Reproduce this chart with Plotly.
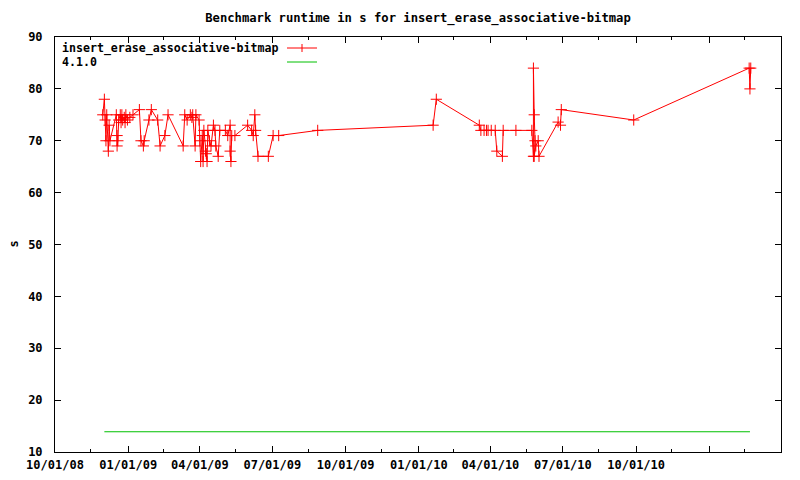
import plotly.graph_objects as go

# ---- data ----
run_dates = [
    "2008-11-30", "2008-12-02", "2008-12-03", "2008-12-04", "2008-12-05", "2008-12-07",
    "2008-12-08", "2008-12-09", "2008-12-17", "2008-12-18", "2008-12-18", "2008-12-19",
    "2008-12-20", "2008-12-22", "2008-12-23", "2008-12-24", "2008-12-25", "2008-12-27",
    "2008-12-28", "2008-12-29", "2008-12-31", "2009-01-03", "2009-01-07", "2009-01-15",
    "2009-01-17", "2009-01-20", "2009-01-21", "2009-01-27", "2009-01-30", "2009-02-07",
    "2009-02-10", "2009-02-16", "2009-02-20", "2009-03-11", "2009-03-13", "2009-03-16",
    "2009-03-20", "2009-03-22", "2009-03-23", "2009-03-26", "2009-03-27", "2009-03-31",
    "2009-04-01", "2009-04-02", "2009-04-04", "2009-04-05", "2009-04-06", "2009-04-08",
    "2009-04-09", "2009-04-10", "2009-04-11", "2009-04-13", "2009-04-15", "2009-04-18",
    "2009-04-20", "2009-04-21", "2009-04-24", "2009-04-26", "2009-05-03", "2009-05-06",
    "2009-05-09", "2009-05-09", "2009-05-10", "2009-05-11", "2009-05-15", "2009-05-31",
    "2009-06-05", "2009-06-07", "2009-06-09", "2009-06-10", "2009-06-13", "2009-06-26",
    "2009-07-02", "2009-07-09", "2009-08-27", "2010-01-19", "2010-01-23", "2010-03-18",
    "2010-03-20", "2010-03-24", "2010-03-27", "2010-03-29", "2010-04-02", "2010-04-07",
    "2010-04-09", "2010-04-16", "2010-04-17", "2010-05-03", "2010-05-23", "2010-05-25",
    "2010-05-25", "2010-05-26", "2010-05-27", "2010-05-26", "2010-05-28", "2010-05-31",
    "2010-06-01", "2010-06-25", "2010-06-28", "2010-06-29", "2010-09-28", "2011-02-20",
    "2011-02-21", "2011-02-22",
]
run_values = [
    75, 78, 74, 70, 75, 68,
    73, 70, 75, 71, 69, 70,
    74, 75, 73.5, 75, 74, 74.5,
    73.5, 75, 74, 74.5, 75, 76,
    70, 69, 70, 74, 76, 74,
    69, 71, 75, 69, 75, 74,
    75, 74.5, 75, 69, 75, 74,
    70, 66, 71, 66, 72, 68,
    67.5, 66, 72, 70, 69, 73,
    72, 69, 67, 72, 72, 71,
    73, 68, 66, 71, 71, 73,
    72, 71, 75, 72, 67, 67,
    71, 71, 72, 73, 78, 73,
    72, 72, 72, 72, 72, 72,
    68, 67, 72, 72, 72, 67,
    84, 75, 70, 67, 69, 70,
    67, 73.6, 73, 76, 74, 84,
    80, 84,
]
baseline_dates = ["2008-12-02", "2011-02-21"]
baseline_values = [13.9, 13.9]

series_name = "insert_erase_associative-bitmap"
baseline_name = "4.1.0"
chart_title = "Benchmark runtime in s for insert_erase_associative-bitmap"
y_label = "s"

x_tick_vals = ["2008-10-01", "2009-01-01", "2009-04-01", "2009-07-01", "2009-10-01",
               "2010-01-01", "2010-04-01", "2010-07-01", "2010-10-01", "2011-01-01",
               "2011-04-01"]
x_tick_text = ["10/01/08", "01/01/09", "04/01/09", "07/01/09", "10/01/09",
               "01/01/10", "04/01/10", "07/01/10", "10/01/10", "", ""]
x_minor_vals = ["2008-11-15", "2009-02-14", "2009-05-16", "2009-08-15", "2009-11-15",
                "2010-02-14", "2010-05-16", "2010-08-15", "2010-11-15", "2011-02-14"]
y_tick_vals = [10, 20, 30, 40, 50, 60, 70, 80, 90]

RED = "#ff0000"
GREEN = "#00c000"
FONT = "DejaVu Sans Mono"

fig = go.Figure()
fig.add_trace(go.Scatter(
    x=run_dates, y=run_values, mode="lines+markers", name=series_name,
    line=dict(color=RED, width=1),
    marker=dict(symbol="cross-thin", size=8, color=RED, line=dict(color=RED, width=1)),
    showlegend=False,
))
fig.add_trace(go.Scatter(
    x=baseline_dates, y=baseline_values, mode="lines", name=baseline_name,
    line=dict(color=GREEN, width=1.2), showlegend=False,
))

axis_common = dict(
    showgrid=False, zeroline=False, showline=True, linecolor="black", linewidth=1,
    mirror="allticks", ticks="inside", tickcolor="black", tickwidth=1,
    automargin=False,
    tickfont=dict(family=FONT, size=12, color="black", weight="bold"),
)

# the page body adds an 8px offset, so the figure is 792x472 with margins adjusted
fig.update_layout(
    width=792, height=472,
    margin=dict(l=47, r=19, t=29, b=28),
    paper_bgcolor="white", plot_bgcolor="white",
    title=dict(text=chart_title, x=0.5, xref="paper", y=1 - 10 / 472, yref="container",
               xanchor="center", yanchor="middle",
               font=dict(family=FONT, size=12.2, color="black", weight="bold")),
    xaxis=dict(
        type="date", range=["2008-10-01", "2011-04-01"],
        tickmode="array", tickvals=x_tick_vals, ticktext=x_tick_text,
        ticklen=6, ticklabelstandoff=2,
        minor=dict(tickmode="array", tickvals=x_minor_vals, ticks="inside",
                   ticklen=3, tickcolor="black", tickwidth=1, showgrid=False),
        **axis_common,
    ),
    yaxis=dict(
        range=[10, 90], tickmode="array", tickvals=y_tick_vals, ticklen=6,
        ticklabelstandoff=9,
        **axis_common,
    ),
    showlegend=False,
)

fig.add_annotation(text=y_label, xref="paper", yref="paper", x=(13 - 55) / 726, y=0.5,
                   xanchor="center", yanchor="middle", textangle=-90, showarrow=False,
                   font=dict(family=FONT, size=12, color="black", weight="bold"))

# gnuplot-style key: text on the left, sample on the right
legend_rows = [(series_name, RED, True), (baseline_name, GREEN, False)]
row_y = [48, 62]
for (label, color, has_marker), py in zip(legend_rows, row_y):
    yp = 1 - (py - 37) / (452 - 37)
    fig.add_annotation(text=label, xref="paper", yref="paper",
                       x=(60 - 55) / 726, y=yp, xanchor="left", yanchor="middle",
                       showarrow=False,
                       font=dict(family=FONT, size=11.6, color="black", weight="bold"))
    fig.add_shape(type="line", xref="paper", yref="paper",
                  x0=(287 - 55) / 726, x1=(317 - 55) / 726, y0=yp, y1=yp,
                  line=dict(color=color, width=1))
    if has_marker:
        fig.add_shape(type="line", xref="paper", yref="paper",
                      x0=(302 - 55) / 726, x1=(302 - 55) / 726,
                      y0=yp - 4 / 415, y1=yp + 4 / 415,
                      line=dict(color=color, width=1))

fig.write_html("out.html")
